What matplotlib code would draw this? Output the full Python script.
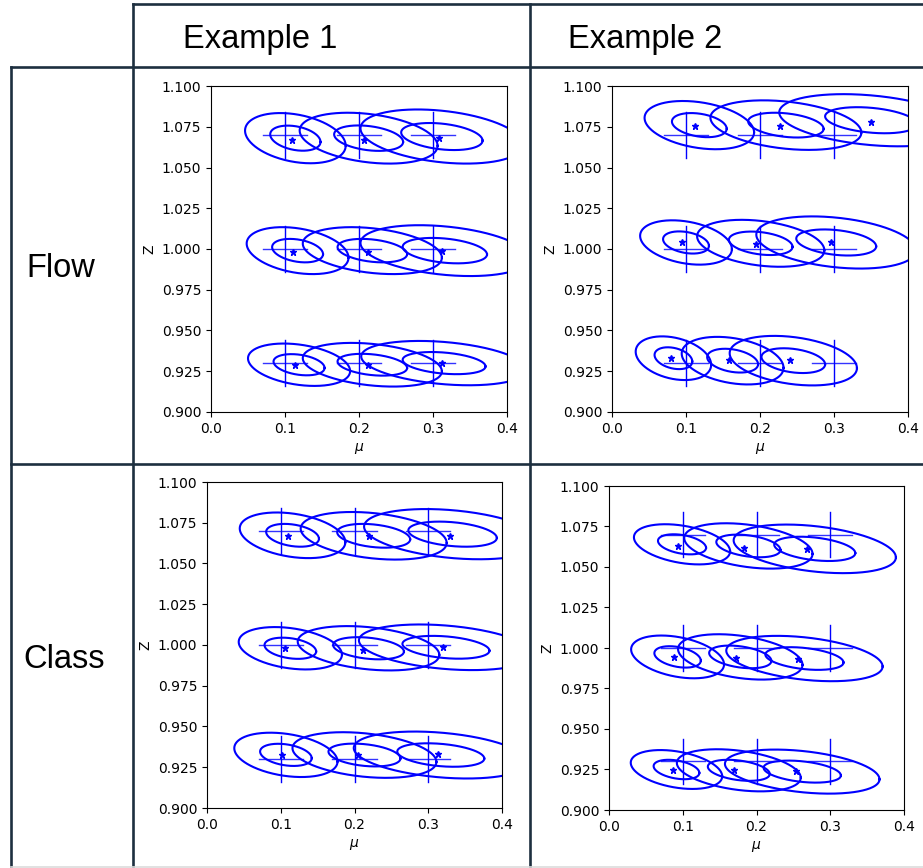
import numpy as np
import matplotlib
matplotlib.use("Agg")
import matplotlib.pyplot as plt

# Valores verdaderos (cruces)
true_mu = [0.1, 0.2, 0.3]
true_z = [0.93, 1.0, 1.07]

col_titles = ["Example 1", "Example 2"]
row_titles = ["Flow", "Class"]

# Cada panel: 9 estimaciones, orden z = 0.93, 1.0, 1.07 y mu = 0.1, 0.2, 0.3
# Flow / Example 1
flow1_star_mu = [0.114, 0.212, 0.312, 0.111, 0.212, 0.312, 0.110, 0.207, 0.308]
flow1_star_z = [0.9286, 0.9286, 0.930, 0.998, 0.998, 0.999, 1.067, 1.067, 1.068]
flow1_mu = [0.119, 0.218, 0.315, 0.117, 0.218, 0.316, 0.114, 0.213, 0.312]
flow1_z = [0.929, 0.929, 0.930, 0.999, 0.999, 0.999, 1.068, 1.068, 1.069]
flow1_sd_mu = [0.0345, 0.047, 0.056, 0.0344, 0.047, 0.057, 0.034, 0.0466, 0.055]
flow1_sd_z = [0.0065, 0.0067, 0.0068, 0.0072, 0.0072, 0.0078, 0.0077, 0.0078, 0.0083]

# Flow / Example 2
flow2_star_mu = [0.080, 0.158, 0.240, 0.095, 0.194, 0.296, 0.112, 0.2275, 0.3495]
flow2_star_z = [0.933, 0.932, 0.932, 1.004, 1.003, 1.004, 1.0755, 1.0755, 1.078]
flow2_mu = [0.083, 0.163, 0.245, 0.100, 0.201, 0.303, 0.118, 0.235, 0.350]
flow2_z = [0.933, 0.9315, 0.9315, 1.004, 1.0035, 1.004, 1.076, 1.076, 1.079]
flow2_sd_mu = [0.0255, 0.0344, 0.043, 0.031, 0.043, 0.054, 0.037, 0.051, 0.062]
flow2_sd_z = [0.0067, 0.0073, 0.0076, 0.0068, 0.0072, 0.008, 0.0074, 0.0076, 0.008]

# Class / Example 1
class1_star_mu = [0.102, 0.205, 0.313, 0.106, 0.212, 0.320, 0.110, 0.219, 0.329]
class1_star_z = [0.9326, 0.9326, 0.933, 0.998, 0.997, 0.9985, 1.067, 1.0666, 1.067]
class1_mu = [0.107, 0.2135, 0.317, 0.113, 0.219, 0.324, 0.116, 0.226, 0.333]
class1_z = [0.9326, 0.9325, 0.9325, 0.998, 0.998, 0.9986, 1.0673, 1.067, 1.068]
class1_sd_mu = [0.035, 0.0488, 0.059, 0.035, 0.048, 0.059, 0.0358, 0.0495, 0.060]
class1_sd_z = [0.0068, 0.007, 0.0072, 0.0065, 0.0068, 0.007, 0.007, 0.0073, 0.0077]

# Class / Example 2
class2_star_mu = [0.087, 0.169, 0.253, 0.088, 0.172, 0.256, 0.094, 0.183, 0.269]
class2_star_z = [0.9244, 0.9248, 0.9238, 0.9943, 0.994, 0.993, 1.063, 1.062, 1.0614]
class2_mu = [0.0915, 0.176, 0.262, 0.093, 0.178, 0.265, 0.099, 0.189, 0.279]
class2_z = [0.925, 0.9245, 0.9237, 0.9945, 0.9945, 0.9935, 1.064, 1.063, 1.0612]
class2_sd_mu = [0.031, 0.042, 0.0524, 0.0315, 0.0422, 0.053, 0.0326, 0.0435, 0.055]
class2_sd_z = [0.006, 0.0065, 0.0068, 0.0066, 0.007, 0.007, 0.0062, 0.007, 0.0075]

rho_panels = [-0.3, -0.3, -0.3, -0.35]

panels = [
    (flow1_star_mu, flow1_star_z, flow1_mu, flow1_z, flow1_sd_mu, flow1_sd_z),
    (flow2_star_mu, flow2_star_z, flow2_mu, flow2_z, flow2_sd_mu, flow2_sd_z),
    (class1_star_mu, class1_star_z, class1_mu, class1_z, class1_sd_mu, class1_sd_z),
    (class2_star_mu, class2_star_z, class2_mu, class2_z, class2_sd_mu, class2_sd_z),
]

W, H = 923, 868
fig = plt.figure(figsize=(W / 100, H / 100), dpi=100)

# Capa de fondo en pixeles para la tabla
bg = fig.add_axes([0, 0, 1, 1])
bg.set_xlim(0, W)
bg.set_ylim(H, 0)
bg.axis("off")
line_col = "#1d2f3f"
lw_tab = 1.9
bg.plot([133, W], [4, 4], color=line_col, lw=lw_tab)
bg.plot([11, W], [67, 67], color=line_col, lw=lw_tab)
bg.plot([11, W], [464, 464], color=line_col, lw=lw_tab)
bg.plot([11, 11], [67, H], color=line_col, lw=lw_tab)
bg.plot([133, 133], [4, H], color=line_col, lw=lw_tab)
bg.plot([530, 530], [4, H], color=line_col, lw=lw_tab)
bg.plot([11, W], [866.5, 866.5], color="#dcdcdc", lw=1.2)

head_font = dict(family=["Liberation Sans", "DejaVu Sans"], fontsize=23.5, color="black")
bg.text(183, 48, col_titles[0], ha="left", va="baseline", **head_font)
bg.text(568, 48, col_titles[1], ha="left", va="baseline", **head_font)
bg.text(26, 277, row_titles[0], ha="left", va="baseline", **head_font)
bg.text(23, 668, row_titles[1], ha="left", va="baseline", **head_font)

# Posiciones de los ejes (fraccion de figura)
axes_pos = [
    [211 / W, 1 - 412 / H, 296 / W, 326 / H],
    [612 / W, 1 - 412 / H, 296 / W, 326 / H],
    [207 / W, 1 - 808 / H, 295 / W, 326 / H],
    [609 / W, 1 - 810 / H, 295 / W, 324 / H],
]

t = np.linspace(0, 2 * np.pi, 300)
for p, (smu, sz, cmu, cz, sdm, sdz) in enumerate(panels):
    ax = fig.add_axes(axes_pos[p])
    rho = rho_panels[p]

    # cruces de los valores verdaderos
    for zt in true_z:
        for mt in true_mu:
            ax.plot([mt, mt], [zt - 0.014, zt + 0.014], color="blue", lw=1.0)
            ax.plot([mt - 0.03, mt + 0.03], [zt, zt], color="blue", lw=1.0, alpha=0.8)

    # elipses de 1 y 2 sigma
    for i in range(len(cmu)):
        for k in [1, 2]:
            ex = cmu[i] + k * sdm[i] * np.cos(t)
            ez = cz[i] + k * sdz[i] * (rho * np.cos(t) + np.sqrt(1 - rho ** 2) * np.sin(t))
            ax.plot(ex, ez, color="blue", lw=1.5)
    ax.plot(smu, sz, linestyle="none", marker="*", color="blue", markersize=5)

    ax.set_xlim(0, 0.4)
    ax.set_ylim(0.9, 1.1)
    ax.set_xticks([0.0, 0.1, 0.2, 0.3, 0.4])
    ax.set_yticks(np.linspace(0.9, 1.1, 9))
    ax.yaxis.set_major_formatter(matplotlib.ticker.FormatStrFormatter("%.3f"))
    ax.tick_params(labelsize=10)
    ax.set_xlabel(r"$\mu$", fontsize=10)
    ax.set_ylabel("Z", fontsize=10)

fig.savefig("out.png", dpi=100)
